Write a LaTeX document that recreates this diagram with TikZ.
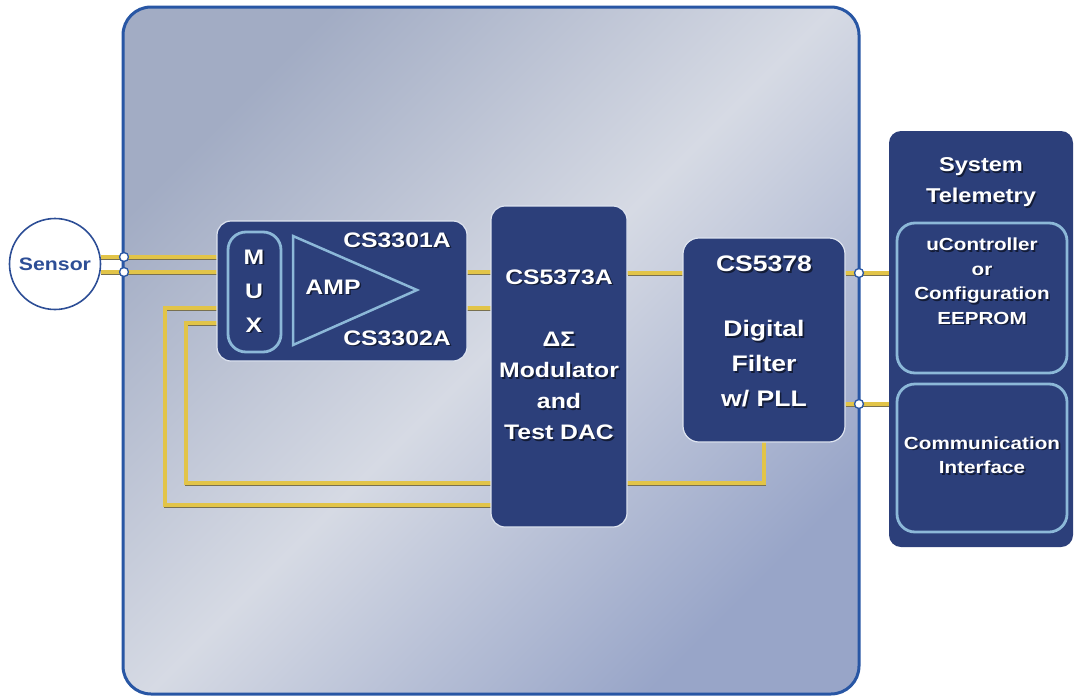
\documentclass[tikz,border=0pt]{standalone}
\usepackage{fontspec}
\setmainfont{Liberation Sans}[FakeStretch=1.18]

\definecolor{chipedge}{RGB}{40,86,164}
\definecolor{chiptl}{RGB}{162,172,196}
\definecolor{chipmid}{RGB}{214,218,228}
\definecolor{chipbr}{RGB}{152,165,200}
\definecolor{boxblue}{RGB}{44,63,122}
\definecolor{boxrim}{RGB}{222,228,240}
\definecolor{edgelight}{RGB}{140,184,216}
\definecolor{wireyellow}{RGB}{226,196,72}
\definecolor{wireshade}{RGB}{120,112,80}
\definecolor{sensorblue}{RGB}{45,78,150}

\pgfdeclarelayer{bg}
\pgfdeclarelayer{wires}
\pgfsetlayers{bg,wires,main}

% white label with a soft drop shadow
\newcommand\chiplabel[4][]{%
  \node [lbl, #1, text=black, opacity=0.55] at ([shift={(1.6pt,-1.6pt)}]#3) {#4};
  \node [lbl, #1] (#2) at (#3) {#4};}

\begin{document}
\begin{tikzpicture}[
  x=1pt, y=-1pt,
  every node/.style={inner sep=0pt, outer sep=0pt},
  block/.style={draw=boxrim, line width=1.2pt, fill=boxblue, rounded corners=14pt},
  inner block/.style={block, draw=edgelight, line width=2.8pt, rounded corners=18pt},
  wire/.style={draw=wireyellow, line width=3.2pt,
    preaction={draw=wireshade, line width=3.2pt, transform canvas={shift={(0.8pt,-0.9pt)}}}},
  joint/.style={circle, draw=chipedge, fill=white, line width=1.3pt, minimum size=9pt},
  lbl/.style={text=white, font=\bfseries\fontsize{21}{31}\selectfont, align=center},
  big lbl/.style={font=\bfseries\fontsize{22.5}{35}\selectfont},
  tele lbl/.style={font=\bfseries\fontsize{17.5}{24.5}\selectfont}
]
\useasboundingbox (0,0) rectangle (1076,696);

% chip background:
\begin{pgfonlayer}{bg}
  \node [draw=chipedge, line width=3pt, rounded corners=28pt,
         top color=chiptl, bottom color=chipbr, middle color=chipmid, shading angle=45,
         minimum width=736pt, minimum height=687pt] (chip) at (491,350.5) {};
\end{pgfonlayer}

% sensor
\node [circle, draw=sensorblue, line width=1.6pt, fill=white, minimum size=91pt,
       text=sensorblue, font=\bfseries\fontsize{18}{20}\selectfont] (sensor) at (55,264) {Sensor};

% mux / amp block
\node [block, minimum width=250pt, minimum height=140pt] (muxbox) at (342,291) {};
\node [inner block, minimum width=53pt, minimum height=120pt] (muxpill) at (254.5,292) {};
\chiplabel[font=\bfseries\fontsize{21}{34}\selectfont]{muxtxt}{254,291}{M\\U\\X}
\draw [fill=boxblue, draw=edgelight, line width=2.5pt] (293,236) -- (417,290) -- (293,345) -- cycle;
\chiplabel{amptxt}{333,287}{AMP}
\chiplabel{amphi}{397,240}{CS3301A}
\chiplabel{amplo}{397,338}{CS3302A}

% modulator
\node [block, minimum width=136pt, minimum height=321pt] (mod) at (559,366.5) {};
\chiplabel{modname}{559,277}{CS5373A}
\chiplabel{modtxt}{559,386}{ΔΣ\\Modulator\\and\\Test DAC}

% digital filter
\node [block, rounded corners=16pt, minimum width=162pt, minimum height=204pt] (filt) at (764,340) {};
\chiplabel[big lbl]{filtname}{764,264}{CS5378}
\chiplabel[big lbl]{filttxt}{764,364}{Digital\\Filter\\w/ PLL}

% system telemetry
\node [fill=boxblue, rounded corners=12pt, minimum width=184pt, minimum height=416pt] (tele) at (981,339) {};
\chiplabel[font=\bfseries\fontsize{20}{31}\selectfont]{teletxt}{981,182}{System\\Telemetry}
\node [inner block, minimum width=170pt, minimum height=150pt] (uctl) at (982,298) {};
\chiplabel[tele lbl]{uctltxt}{982,281}{uController\\or\\Configuration\\EEPROM}
\node [inner block, minimum width=170pt, minimum height=148pt] (comm) at (982,458) {};
\chiplabel[tele lbl]{commtxt}{982,455}{Communication\\Interface}

% joints on the chip edge
\node [joint] (jA) at (124,257) {};
\node [joint] (jB) at (124,272) {};
\node [joint] (jC) at (859,273) {};
\node [joint] (jD) at (859,404) {};
\coordinate (inC) at (228,308);
\coordinate (inD) at (228,323);

\begin{pgfonlayer}{wires}
  \draw [wire] (sensor.east |- jA) -- (muxpill.west |- jA);
  \draw [wire] (sensor.east |- jB) -- (muxpill.west |- jB);
  \draw [wire] (muxpill.east |- jB) -- (mod.west |- jB);
  \draw [wire] (muxpill.east |- inC) -- (mod.west |- inC);
  % feedback loops
  \draw [wire] (inC) -| (165,505) -- (mod.west |- 0,505);
  \draw [wire] (filt.south) |- (186,483) |- (inD);
  \draw [wire] (mod.east |- jC) -- (filt.west |- jC);
  \draw [wire] (filt.east |- jC) -- (uctl.west |- jC);
  \draw [wire] (filt.east |- jD) -- (comm.west |- jD);
\end{pgfonlayer}

\end{tikzpicture}
\end{document}
